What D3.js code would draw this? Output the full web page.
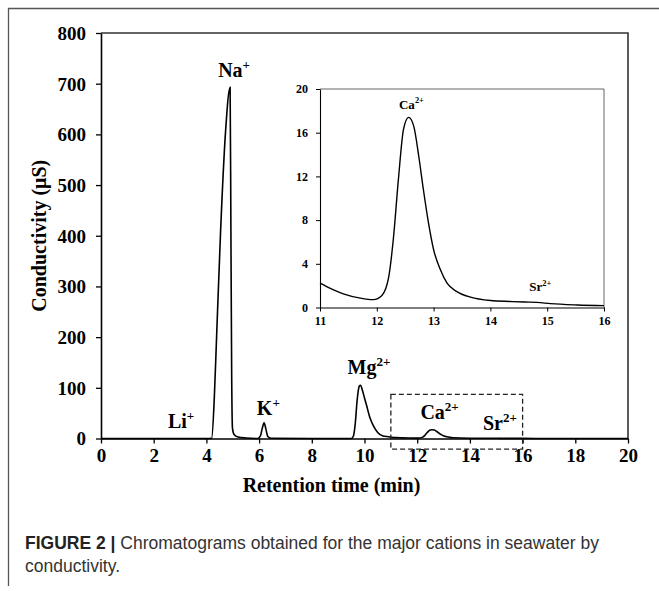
<!DOCTYPE html>
<html>
<head>
<meta charset="utf-8">
<script src="https://cdn.jsdelivr.net/npm/d3@7"></script>
<style>
  html, body { margin: 0; padding: 0; background: #fff; }
  svg { display: block; }
</style>
</head>
<body>
<svg id="chart" width="659" height="591"></svg>
<script>
// ---------------- data ----------------
// Main chromatogram, 0 – 11 min (retention time, conductivity µS)
const mainTimeA  = [0, 2, 4.0, 4.2, 4.3, 4.39, 4.54, 4.73, 4.9, 4.93, 4.96, 4.99, 5.05, 5.2, 5.5, 5.95,
                    6.05, 6.12, 6.19, 6.26, 6.33, 6.45, 8, 9.5, 9.58, 9.65, 9.72, 9.8, 9.85, 9.92,
                    10.0, 10.08, 10.2, 10.33, 10.5, 10.7, 10.97];
const mainValueA = [0, 0, 0, 0.5, 80, 205, 411, 608, 693, 411, 120, 20, 8, 3, 1, 0,
                    5, 20, 31, 18, 4, 0.5, 0, 0, 5, 30, 75, 103, 105, 95,
                    80, 65, 42, 26, 12, 5, 3];
// Zoomed region (inset), 11 – 16 min
const insetTime  = [11.0, 11.2, 11.41, 11.71, 11.94, 12.09, 12.21, 12.29, 12.38, 12.47, 12.56, 12.65,
                    12.74, 12.82, 12.91, 13.0, 13.12, 13.24, 13.41, 13.65, 14.0, 14.35, 14.6, 14.82,
                    15.06, 15.53, 16.0];
const insetValue = [2.23, 1.7, 1.25, 0.86, 0.72, 1.1, 2.8, 6.2, 11.7, 16.3, 17.4, 16.6,
                    13.8, 10.8, 7.75, 5.3, 3.45, 2.2, 1.46, 0.95, 0.64, 0.55, 0.5, 0.47,
                    0.35, 0.23, 0.17];
// Main chromatogram after 16 min
const mainTimeB  = [17, 18.5, 20];
const mainValueB = [0.1, 0.05, 0];

const xTicksMain = [0, 2, 4, 6, 8, 10, 12, 14, 16, 18, 20];
const yTicksMain = [0, 100, 200, 300, 400, 500, 600, 700, 800];
const xTicksInset = [11, 12, 13, 14, 15, 16];
const yTicksInset = [0, 4, 8, 12, 16, 20];

// peak labels: [ion, charge, time, value] (main chart)
const peakLabels = [
  ["Li", "+", 3.04, 21],
  ["Na", "+", 5.05, 713],
  ["K", "+", 6.35, 46],
  ["Mg", "2+", 10.17, 127],
  ["Ca", "2+", 12.85, 38],
  ["Sr", "2+", 15.14, 17]
];
const insetLabels = [
  ["Ca", "2+", 12.61, 18.2],
  ["Sr", "2+", 14.88, 1.5]
];
// dashed box marking zoomed region (time, µS)
const boxTime  = [11, 16];
const boxValue = [-21, 87];

const xTitle = "Retention time (min)";
const yTitle = "Conductivity (μS)";
const captionBold = "FIGURE 2 |";
const captionLine1 = " Chromatograms obtained for the major cations in seawater by";
const captionLine2 = "conductivity.";

// ---------------- drawing ----------------
const svg = d3.select("#chart");
const serif = "'Liberation Serif', 'Times New Roman', serif";
const sans = "'Liberation Sans', Arial, Helvetica, sans-serif";

// outer frame (top + left)
svg.append("path")
  .attr("d", "M8.5,586 L8.5,8.5 L659,8.5")
  .attr("fill", "none").attr("stroke", "#555").attr("stroke-width", 1.3);

const M = { left: 101, right: 628, top: 33, bottom: 438.5 };
const x = d3.scaleLinear().domain([0, 20]).range([M.left, M.right]);
const y = d3.scaleLinear().domain([0, 800]).range([M.bottom, M.top]);

// plot frame top/right
svg.append("path")
  .attr("d", `M${M.left},${M.top} L${M.right},${M.top} L${M.right},${M.bottom}`)
  .attr("fill", "none").attr("stroke", "#333").attr("stroke-width", 1.6);

const gx = svg.append("g").attr("transform", `translate(0,${M.bottom})`)
  .call(d3.axisBottom(x).tickValues(xTicksMain).tickSize(5).tickPadding(5).tickSizeOuter(0).tickFormat(d3.format("d")));
const gy = svg.append("g").attr("transform", `translate(${M.left},0)`)
  .call(d3.axisLeft(y).tickValues(yTicksMain).tickSize(5).tickPadding(10).tickSizeOuter(0).tickFormat(d3.format("d")));
[gx, gy].forEach(g => {
  g.select(".domain").attr("stroke", "#000").attr("stroke-width", 1.6);
  g.selectAll(".tick line").attr("stroke", "#000").attr("stroke-width", 1.3);
  g.selectAll(".tick text").attr("font-family", serif).attr("font-weight", "bold")
    .attr("font-size", 19).attr("fill", "#000");
});
gy.selectAll(".tick text").attr("dy", "0.34em");

// axis titles
svg.append("text").attr("x", (M.left + M.right) / 2 - 33).attr("y", 492)
  .attr("text-anchor", "middle").attr("font-family", serif).attr("font-weight", "bold")
  .attr("font-size", 20).text(xTitle);
svg.append("text").attr("transform", `translate(46,${(M.top + M.bottom) / 2}) rotate(-90)`)
  .attr("text-anchor", "middle").attr("font-family", serif).attr("font-weight", "bold")
  .attr("font-size", 20).text(yTitle);

// main trace
const mainData = mainTimeA.map((t, i) => [t, mainValueA[i]])
  .concat(insetTime.map((t, i) => [t, insetValue[i]]))
  .concat(mainTimeB.map((t, i) => [t, mainValueB[i]]));
const line = d3.line().x(d => x(d[0])).y(d => y(d[1])).curve(d3.curveMonotoneX);
svg.append("path").datum(mainData).attr("d", line)
  .attr("fill", "none").attr("stroke", "#000").attr("stroke-width", 1.6);

// dashed box
svg.append("rect")
  .attr("x", x(boxTime[0])).attr("y", y(boxValue[1]))
  .attr("width", x(boxTime[1]) - x(boxTime[0])).attr("height", y(boxValue[0]) - y(boxValue[1]))
  .attr("fill", "none").attr("stroke", "#222").attr("stroke-width", 1.3).attr("stroke-dasharray", "5,3");

function ionLabel(g, d, xs, ys, size) {
  const t = g.append("text").attr("x", xs(d[2])).attr("y", ys(d[3]))
    .attr("text-anchor", "middle").attr("font-family", serif).attr("font-weight", "bold")
    .attr("font-size", size).attr("fill", "#000");
  t.append("tspan").text(d[0]);
  t.append("tspan").attr("font-size", size * 0.65).attr("dy", -size * 0.4).text(d[1]);
}
peakLabels.forEach(d => ionLabel(svg, d, x, y, 20));

// ---------------- inset ----------------
const I = { left: 320, right: 604, top: 89, bottom: 307.5 };
const xi = d3.scaleLinear().domain([11, 16]).range([I.left, I.right]);
const yi = d3.scaleLinear().domain([0, 20]).range([I.bottom, I.top]);

svg.append("path")
  .attr("d", `M${I.left},${I.top} L${I.right},${I.top} L${I.right},${I.bottom}`)
  .attr("fill", "none").attr("stroke", "#666").attr("stroke-width", 1);

const gxi = svg.append("g").attr("transform", `translate(0,${I.bottom})`)
  .call(d3.axisBottom(xi).tickValues(xTicksInset).tickSize(4).tickPadding(5).tickSizeOuter(0).tickFormat(d3.format("d")));
const gyi = svg.append("g").attr("transform", `translate(${I.left},0)`)
  .call(d3.axisLeft(yi).tickValues(yTicksInset).tickSize(4).tickPadding(8).tickSizeOuter(0).tickFormat(d3.format("d")));
[gxi, gyi].forEach(g => {
  g.select(".domain").attr("stroke", "#000").attr("stroke-width", 1.1);
  g.selectAll(".tick line").attr("stroke", "#000").attr("stroke-width", 1);
  g.selectAll(".tick text").attr("font-family", serif).attr("font-weight", "bold")
    .attr("font-size", 12).attr("fill", "#000");
});

const insetData = insetTime.map((t, i) => [t, insetValue[i]]);
const linei = d3.line().x(d => xi(d[0])).y(d => yi(d[1])).curve(d3.curveMonotoneX);
svg.append("path").datum(insetData).attr("d", linei)
  .attr("fill", "none").attr("stroke", "#000").attr("stroke-width", 1.4);
insetLabels.forEach(d => ionLabel(svg, d, xi, yi, 13));

// ---------------- caption ----------------
const cap = svg.append("text").attr("x", 25).attr("y", 549)
  .attr("font-family", sans).attr("font-size", 17.5).attr("fill", "#333");
cap.append("tspan").attr("font-weight", "bold").attr("fill", "#222").text(captionBold);
cap.append("tspan").text(captionLine1);
svg.append("text").attr("x", 25).attr("y", 572)
  .attr("font-family", sans).attr("font-size", 17.5).attr("fill", "#333").text(captionLine2);
</script>
</body>
</html>
